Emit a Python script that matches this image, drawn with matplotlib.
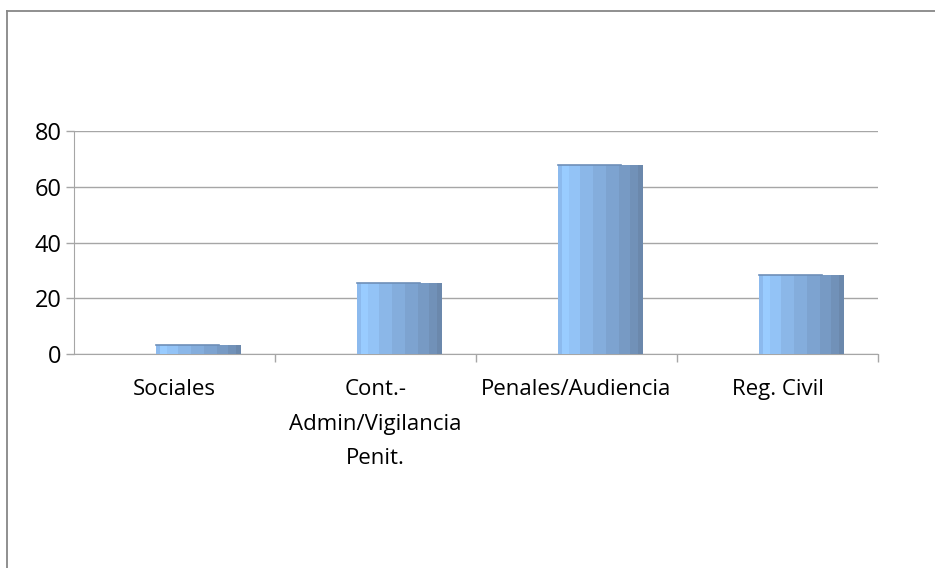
import matplotlib
matplotlib.use("Agg")
import matplotlib.pyplot as plt
import numpy as np

categories = ["Sociales", "Cont.-\nAdmin/Vigilancia\nPenit.", "Penales/Audiencia", "Reg. Civil"]
values = [3.3, 25.5, 67.8, 28.3]
yticks = [0, 20, 40, 60, 80]

stripe_colors = ["#8CBAEE", "#99CCFF", "#93C3F6", "#8BB7E8", "#84ADDC", "#7DA3D0",
                 "#779AC4", "#7191B8", "#6B88AC"]
stripe_w = [0.3, 0.5, 0.8, 1.0, 1.0, 1.0, 0.8, 0.6, 0.4]

plt.rcParams['font.family'] = ['Open Sans', 'DejaVu Sans']

W, H = 935, 568
fig = plt.figure(figsize=(W / 100, H / 100), dpi=100)
fig.patch.set_facecolor("white")
# outer border (top and left visible)
fig.add_artist(plt.Line2D([7 / W, 7 / W], [0, 1 - 11 / H], color="#878787", lw=1.3))
fig.add_artist(plt.Line2D([7 / W, 1], [1 - 11 / H, 1 - 11 / H], color="#878787", lw=1.3))

ax = fig.add_axes([74 / W, (H - 354) / H, 804 / W, 223 / H])
ax.set_xlim(-0.5, 3.5)
ax.set_ylim(0, 80)

bar_w = 0.42
offset = 0.12
x = np.arange(len(categories))
tot = sum(stripe_w)
left = x + offset - bar_w / 2
acc = 0.0
for c, sw in zip(stripe_colors, stripe_w):
    w = bar_w * sw / tot
    ax.bar(left + acc, values, width=w * 1.02, align="edge", color=c, linewidth=0, zorder=3)
    acc += w
# darker top edge on left part
for xi, v in zip(x, values):
    ax.plot([xi + offset - bar_w / 2, xi + offset + 0.1], [v, v], color="#6E8FB8", lw=1.2, zorder=4)

ax.set_yticks(yticks)
ax.set_yticklabels([str(t) for t in yticks], fontsize=17)
ax.yaxis.grid(True, color="#A6A6A6", lw=1.0, zorder=0)
ax.set_axisbelow(True)

ax.set_xticks(x)
ax.set_xticklabels(categories, fontsize=16, linespacing=1.85, va="top")
ax.tick_params(axis="x", length=0, pad=18)
ax.set_xticks(np.arange(0.5, 4.0, 1.0), minor=True)
ax.tick_params(axis="x", which="minor", length=6, color="#A6A6A6", width=1)
ax.tick_params(axis="y", length=6, color="#A6A6A6", width=1, pad=3)

for s in ["top", "right"]:
    ax.spines[s].set_visible(False)
ax.spines["left"].set_color("#A6A6A6")
ax.spines["bottom"].set_color("#A6A6A6")

fig.savefig("out.png", dpi=100, facecolor="white")
